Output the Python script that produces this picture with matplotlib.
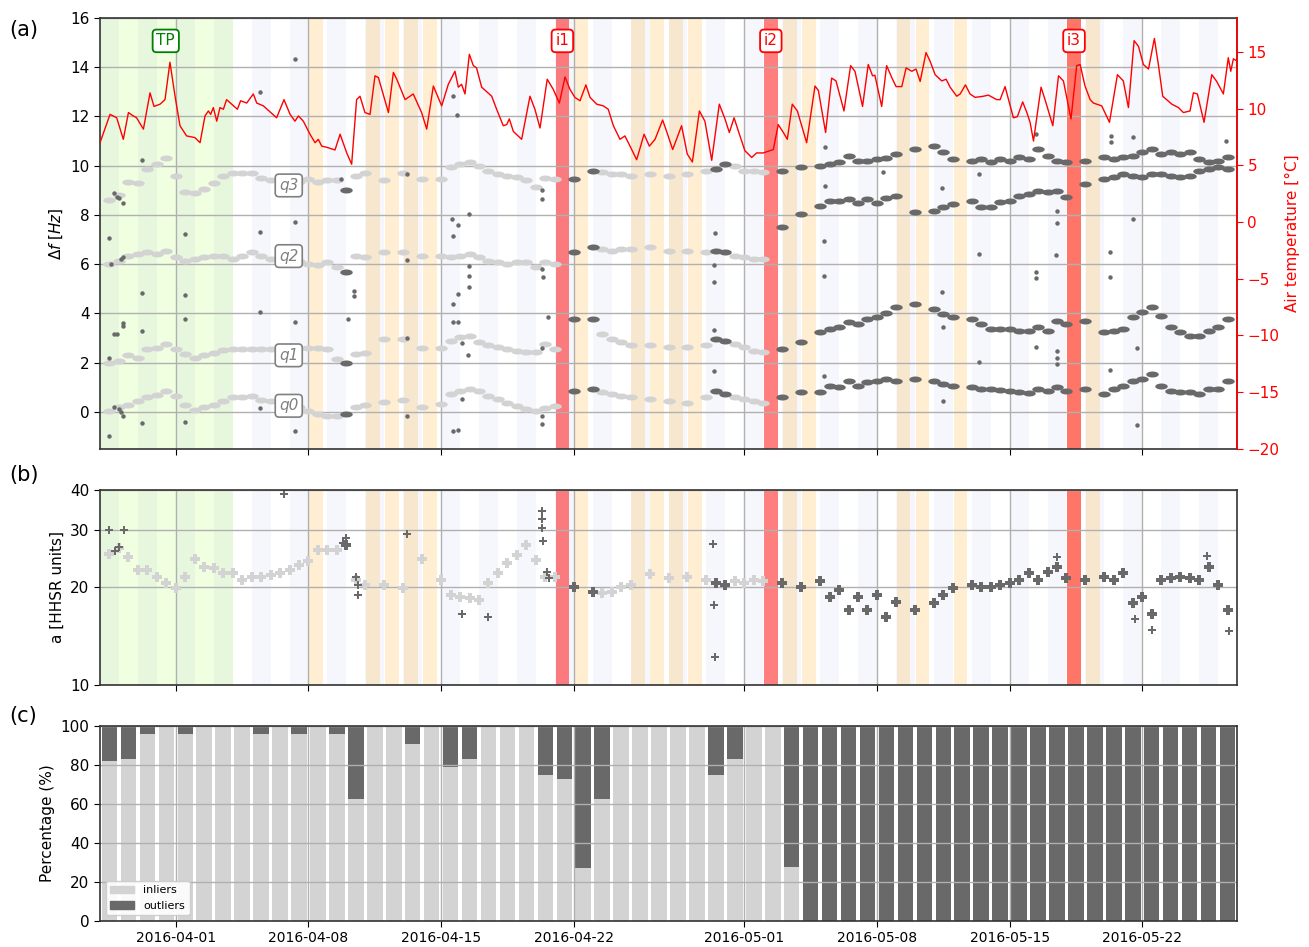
import numpy as np
import matplotlib
matplotlib.use('Agg')
import matplotlib.pyplot as plt
import matplotlib.dates as mdates
from matplotlib.patches import Patch
from matplotlib.path import Path
from matplotlib.ticker import FixedLocator, NullLocator, FixedFormatter

nan = np.nan
start = mdates.datestr2num('2016-03-28')

# frequency tracks, sampled every half day from 2016-03-28
t_half = np.arange(0, 60, 0.5)
q3 = [nan, 8.6, 8.8, 9.35, 9.3, 9.85, 10.05, 10.3, 9.6, 8.95,
      8.9, 9.05, 9.3, 9.6, 9.7, 9.7, 9.7, 9.5, 9.4, nan,
      nan, 9.35, 9.45, 9.35, 9.4, 9.4, 9.0, 9.6, 9.7, nan,
      9.4, nan, 9.7, nan, 9.45, nan, 9.46, 9.94, 10.07, 10.14,
      10.0, 9.8, 9.67, 9.6, 9.53, 9.4, 9.13, 9.5, 9.46, nan,
      9.46, nan, 9.8, 9.73, 9.67, 9.67, 9.6, nan, 9.67, nan,
      9.6, nan, 9.67, nan, 9.8, 9.87, 10.07, 10.0, 9.8, 9.8,
      9.73, nan, 9.8, nan, 9.94, nan, 10.0, 10.07, 10.14, 10.41,
      10.2, 10.2, 10.27, 10.3, 10.48, nan, 10.68, nan, 10.82, 10.55,
      10.27, nan, 10.2, 10.27, 10.14, 10.27, 10.2, 10.34, 10.27, 10.68,
      10.41, 10.2, 10.14, nan, 10.2, nan, 10.34, 10.27, 10.34, 10.41,
      10.55, 10.68, 10.48, 10.55, 10.48, 10.55, 10.27, 10.14, 10.2, 10.34]
q2 = [nan, 6.0, 6.15, 6.35, 6.4, 6.5, 6.4, 6.55, 6.3, 6.15,
      6.2, 6.3, 6.35, 6.35, 6.2, 6.35, 6.5, 6.35, 6.2, nan,
      nan, 6.15, 6.0, 5.95, 6.1, 5.9, 5.7, 6.35, 6.3, nan,
      6.5, nan, 6.5, nan, 6.35, nan, 6.35, 6.28, 6.35, 6.4,
      6.28, 6.15, 6.08, 6.0, 6.08, 6.08, 5.87, 6.08, 6.0, nan,
      6.48, nan, 6.68, 6.6, 6.55, 6.6, 6.6, nan, 6.68, nan,
      6.55, nan, 6.55, nan, 6.48, 6.55, 6.48, 6.35, 6.28, 6.2,
      6.2, nan, 7.5, nan, 8.04, nan, 8.38, 8.58, 8.58, 8.65,
      8.5, 8.65, 8.5, 8.7, 8.78, nan, 8.11, nan, 8.18, 8.31,
      8.45, nan, 8.58, 8.31, 8.31, 8.51, 8.58, 8.78, 8.85, 8.99,
      8.92, 8.99, 8.72, nan, 9.26, nan, 9.46, 9.53, 9.67, 9.6,
      9.53, 9.67, 9.67, 9.6, 9.53, 9.6, 9.8, 9.87, 9.94, 9.87]
q1 = [nan, 2.0, 2.05, 2.3, 2.2, 2.55, 2.6, 2.75, 2.55, 2.35,
      2.2, 2.3, 2.4, 2.5, 2.55, 2.55, 2.55, 2.55, 2.55, nan,
      nan, 2.6, 2.6, 2.6, 2.55, 2.15, 2.0, 2.35, 2.4, nan,
      2.95, nan, 2.95, nan, 2.6, nan, 2.6, 2.9, 3.03, 3.1,
      2.83, 2.7, 2.62, 2.55, 2.49, 2.42, 2.42, 2.76, 2.55, nan,
      3.77, nan, 3.77, 3.16, 2.96, 2.83, 2.7, nan, 2.7, nan,
      2.62, nan, 2.62, nan, 2.7, 2.96, 2.9, 2.76, 2.62, 2.49,
      2.42, nan, 2.55, nan, 2.83, nan, 3.23, 3.37, 3.43, 3.64,
      3.57, 3.77, 3.87, 4.0, 4.25, nan, 4.38, nan, 4.18, 3.97,
      3.84, nan, 3.77, 3.57, 3.37, 3.37, 3.37, 3.3, 3.3, 3.43,
      3.3, 3.7, 3.57, nan, 3.7, nan, 3.23, 3.3, 3.37, 3.84,
      4.04, 4.25, 3.9, 3.43, 3.23, 3.1, 3.1, 3.3, 3.43, 3.77]
q0 = [nan, 0.05, 0.2, 0.3, 0.45, 0.6, 0.7, 0.85, 0.65, 0.3,
      0.08, 0.2, 0.3, 0.45, 0.6, 0.6, 0.65, 0.5, 0.45, nan,
      nan, 0.2, 0.05, -0.1, -0.15, -0.15, -0.1, 0.2, 0.3, nan,
      0.4, nan, 0.5, nan, 0.2, nan, 0.32, 0.72, 0.86, 0.93,
      0.86, 0.66, 0.52, 0.38, 0.25, 0.11, 0.05, 0.18, 0.25, nan,
      0.86, nan, 0.93, 0.8, 0.72, 0.66, 0.59, nan, 0.52, nan,
      0.45, nan, 0.38, nan, 0.59, 0.86, 0.72, 0.59, 0.52, 0.45,
      0.38, nan, 0.59, nan, 0.8, nan, 0.8, 1.06, 1.0, 1.27,
      1.06, 1.2, 1.25, 1.33, 1.27, nan, 1.33, nan, 1.27, 1.13,
      1.06, nan, 1.0, 0.93, 0.93, 0.9, 0.86, 0.8, 0.77, 0.93,
      0.86, 1.0, 0.86, nan, 0.93, nan, 0.72, 0.93, 1.06, 1.27,
      1.33, 1.54, 1.06, 0.86, 0.8, 0.8, 0.72, 0.93, 0.93, 1.27]
amp = [nan, 25.3, 26.4, 24.9, 22.6, 22.6, 21.6, 20.6, 19.9, 21.6,
       24.5, 23.2, 22.9, 22.1, 22.1, 21.1, 21.6, 21.6, 21.9, 22.1,
       22.6, 23.5, 24.1, 26.1, 26.1, 26.1, 27.1, 21.1, 20.4, nan,
       20.4, nan, 19.9, nan, 24.5, nan, 21.1, 18.9, 18.7, 18.5,
       18.3, 20.6, 22.1, 23.8, 25.2, 27.1, 24.3, 21.6, 21.6, nan,
       20.1, nan, 19.4, 19.2, 19.4, 20.1, 20.4, nan, 22.0, nan,
       21.4, nan, 21.6, nan, 21.1, 20.6, 20.4, 20.9, 20.6, 21.1,
       20.9, nan, 20.6, nan, 20.1, nan, 20.9, 18.7, 19.6, 17.0,
       18.7, 17.0, 18.9, 16.2, 18.1, nan, 17.0, nan, 17.9, 18.9,
       19.9, nan, 20.4, 20.1, 20.1, 20.4, 20.6, 21.1, 22.1, 21.1,
       22.4, 23.2, 21.4, nan, 21.1, nan, 21.6, 21.1, 22.1, 17.9,
       18.7, 16.6, 21.1, 21.4, 21.6, 21.4, 21.1, 23.2, 20.4, 17.0]

# stretches of the tracks flagged as outliers (days)
outlier_spans = [(12.6, 13.2), (24.8, 26.3), (32.4, 33.2), (35.8, 60)]

# isolated outliers, panel (a)
out_a_day = [0.49, 0.49, 0.49, 0.75, 0.9, 1.0, 1.2, 0.6, 1.1, 1.2, 0.75, 0.9, 1.2, 0.75, 1.0, 1.1,
             2.2, 2.2, 2.2, 2.2, 1.2, 1.23, 4.49, 4.49, 4.49, 4.49, 8.44, 8.44, 8.44, 8.44,
             10.29, 10.29, 10.29, 10.29, 12.7, 13.4, 13.4, 13.1, 16.22, 16.22, 16.22, 16.22,
             18.64, 18.82, 18.56, 18.91, 18.64, 19.49, 19.49, 19.49, 19.49, 18.91, 18.64, 18.64,
             18.91, 19.08, 19.44, 19.08, 18.64, 18.91, 23.3, 23.3, 23.3, 23.4, 23.3, 23.66, 23.3, 23.35,
             32.45, 32.4, 32.4, 32.4, 32.4, 38.26, 38.26, 38.2, 38.2, 38.2,
             41.34, 44.42, 44.42, 44.5, 44.5, 46.41, 46.41, 46.41, 49.4, 49.4, 49.4, 49.4,
             50.49, 50.49, 50.45, 50.49, 50.49, 50.49, 53.34, 53.34, 53.3, 53.3, 53.3,
             54.5, 54.5, 54.71, 54.71, 59.42]
out_a_val = [-0.97, 7.05, 2.21, 8.9, 8.75, 8.7, 8.5, 6.0, 6.2, 6.3, 3.16, 3.16, 3.6, 0.2, 0.1, 0.0,
             10.24, 4.82, 3.3, -0.46, 3.5, -0.16, 7.23, 4.75, 3.77, -0.4, 12.99, 7.3, 4.04, 0.14,
             14.34, 7.73, 3.66, -0.79, 9.46, 4.92, 4.72, 3.77, 9.67, 6.18, 3.0, -0.16,
             12.85, 12.04, 7.84, 7.6, 7.13, 8.04, 5.94, 5.53, 5.06, 4.79, 4.38, 3.66,
             3.64, 2.82, 2.31, 0.52, -0.77, -0.73, 9.0, 8.65, 5.8, 5.5, 2.6, 3.84, -0.16, -0.5,
             7.27, 5.97, 5.26, 3.32, 1.67, 10.75, 9.16, 6.93, 5.53, 1.47,
             9.76, 9.08, 4.86, 3.46, 0.45, 9.67, 6.42, 2.04, 11.29, 5.67, 5.42, 2.62,
             8.18, 7.66, 6.37, 2.48, 2.21, 1.94, 11.22, 10.95, 6.51, 5.47, 1.7,
             11.18, 7.84, 2.58, -0.54, 11.02]

# isolated outliers, panel (b)
out_b_day = [0.49, 0.8, 1.0, 1.27, 9.71, 12.8, 13.0, 13.5, 13.6, 13.6, 16.22, 19.1, 20.48,
             23.3, 23.35, 23.3, 23.4, 23.6, 23.7, 32.35, 32.4, 32.46, 50.5, 54.6, 55.5, 58.4, 59.6]
out_b_val = [30.1, 26.0, 26.6, 30.0, 39.0, 27.5, 28.5, 21.5, 20.4, 18.9, 29.3, 16.6, 16.2,
             34.5, 32.6, 30.6, 27.9, 22.4, 21.4, 27.3, 17.6, 12.2, 24.9, 16.0, 14.8, 25.0, 14.7]

# air temperature, days after 2016-03-28
temp_day = [0.00, 0.53, 0.88, 1.23, 1.50, 1.76, 1.93, 2.29, 2.64, 2.85, 3.17, 3.43, 3.69, 3.96,
            4.22, 4.57, 5.01, 5.28, 5.54, 5.72, 5.84, 5.98, 6.16, 6.33, 6.51, 6.68, 6.95, 7.25,
            7.42, 7.74, 8.09, 8.27, 8.62, 9.32, 9.71, 10.03, 10.29, 10.47, 10.73, 11.08, 11.35,
            11.52, 11.70, 11.96, 12.40, 12.67, 13.02, 13.28, 13.54, 13.72, 13.98, 14.25, 14.51,
            14.69, 15.22, 15.48, 15.66, 16.10, 16.53, 16.97, 17.24, 17.59, 18.03, 18.38, 18.73,
            18.91, 19.08, 19.26, 19.49, 19.70, 19.87, 20.14, 20.67, 20.93, 21.28, 21.46, 21.60,
            21.81, 22.25, 22.69, 22.95, 23.22, 23.60, 23.92, 24.24, 24.54, 24.80, 25.06, 25.33,
            25.64, 25.86, 26.21, 26.56, 26.82, 27.09, 27.44, 27.70, 27.97, 28.32, 28.71, 28.99,
            29.29, 29.69, 29.90, 30.22, 30.69, 30.99, 31.26, 31.63, 31.92, 32.28, 32.68, 32.98,
            33.21, 33.46, 33.77, 34.03, 34.39, 34.65, 35.00, 35.53, 35.79, 36.06, 36.27, 36.53,
            36.80, 37.29, 37.73, 37.91, 38.29, 38.61, 38.84, 39.26, 39.61, 39.84, 40.24, 40.54,
            40.77, 40.89, 41.25, 41.51, 41.78, 42.01, 42.31, 42.54, 42.84, 43.06, 43.28, 43.59,
            43.80, 44.07, 44.42, 44.65, 44.86, 45.21, 45.39, 45.67, 45.91, 46.18, 46.62, 46.88,
            47.32, 47.50, 47.76, 47.99, 48.20, 48.41, 48.69, 48.91, 49.08, 49.26, 49.66, 49.87,
            50.28, 50.58, 50.84, 51.24, 51.54, 51.72, 51.98, 52.25, 52.42, 52.60, 52.86, 53.27,
            53.69, 54.00, 54.27, 54.57, 54.80, 55.06, 55.33, 55.64, 55.85, 56.08, 56.56, 56.91,
            57.17, 57.52, 57.70, 57.91, 58.26, 58.67, 58.93, 59.28, 59.54, 59.67, 59.81, 60.00]
temp_val = [7.0, 9.5, 9.2, 7.3, 9.66, 9.36, 9.2, 8.2, 11.4, 10.2, 10.4, 10.8, 14.1, 11.1,
            8.5, 7.6, 7.45, 7.0, 9.36, 9.8, 9.5, 10.1, 8.9, 10.1, 9.95, 10.8, 10.4, 9.95,
            10.7, 10.5, 11.3, 10.5, 10.25, 9.2, 10.8, 9.5, 8.9, 9.36, 8.9, 7.75, 7.0,
            7.3, 6.7, 6.6, 6.36, 7.75, 6.1, 5.1, 10.8, 11.1, 9.66, 9.5, 12.9,
            12.75, 9.66, 13.2, 12.6, 10.8, 11.3, 9.66, 8.2, 12.0, 10.25, 12.15, 13.3,
            11.9, 12.15, 11.3, 14.8, 13.8, 13.6, 11.9, 11.1, 9.95, 8.5, 8.6, 9.1,
            8.0, 7.3, 11.1, 9.95, 8.3, 12.6, 11.7, 10.5, 12.8, 11.7, 11.0, 10.7,
            12.1, 11.0, 10.4, 10.25, 9.95, 8.5, 7.3, 7.6, 6.7, 5.5, 7.75, 6.7,
            7.3, 9.0, 8.0, 6.4, 8.5, 6.0, 5.3, 9.8, 8.9, 5.45, 10.4, 9.1,
            7.9, 9.2, 7.6, 6.3, 5.7, 6.1, 6.1, 6.4, 8.6, 7.9, 7.3, 10.4,
            9.8, 7.0, 12.0, 11.6, 7.9, 12.7, 12.45, 9.8, 13.8, 13.3, 10.2, 13.9,
            12.9, 12.95, 10.2, 13.8, 12.75, 11.95, 11.95, 13.6, 13.3, 13.5, 12.4, 14.95,
            14.2, 13.0, 12.45, 12.6, 11.9, 11.1, 11.3, 12.1, 11.3, 11.0, 11.1, 11.2,
            10.8, 10.8, 11.95, 10.5, 9.2, 9.3, 10.6, 9.66, 8.8, 7.15, 11.9, 10.8,
            8.5, 12.9, 12.45, 9.1, 13.8, 13.9, 12.0, 10.8, 10.5, 10.4, 10.25, 8.8,
            13.0, 12.45, 10.1, 16.0, 15.5, 13.9, 13.5, 16.2, 13.9, 11.1, 10.4, 10.1,
            9.66, 9.8, 11.4, 11.3, 8.8, 13.0, 12.4, 11.3, 14.5, 13.3, 14.4, 14.2]

# daily share of inliers (%) for the bar panel
inlier_pct = [82, 83, 96, 100, 96, 100, 100, 100, 96, 100,
              96, 100, 96, 62.5, 100, 100, 91, 100, 79, 83,
              100, 100, 100, 75, 73, 27, 62.5, 100, 100, 100,
              100, 100, 75, 83, 100, 100, 27.5, 0, 0, 0,
              0, 0, 0, 0, 0, 0, 0, 0, 0, 0,
              0, 0, 0, 0, 0, 0, 0, 0, 0, 0]

# background shading (day index after 2016-03-28)
tp_span = (0, 7)
striped_days = list(range(0, 60, 2))
orange_days = [11, 14, 15, 16, 17, 25, 28, 29, 30, 31, 36, 37, 42, 43, 45, 51, 52]
event_days = [24, 35, 51]
event_names = ['i1', 'i2', 'i3']

light = 'lightgrey'
dark = 'dimgrey'

# wide dot so the half-day samples read as a band, like the dense original
th = np.linspace(0, 2 * np.pi, 41)
blob = Path(np.column_stack([np.cos(th), 0.48 * np.sin(th)]))


def shade(ax):
    for d in striped_days:
        ax.axvspan(start + d, start + d + 1, color='lavender', alpha=0.35, lw=0, zorder=0)
    ax.axvspan(start + tp_span[0], start + tp_span[1], color='chartreuse', alpha=0.12, lw=0, zorder=0)
    for d in orange_days:
        ax.axvspan(start + d + 0.04, start + d + 0.77, color='orange', alpha=0.18, lw=0, zorder=0)
    for d in event_days:
        ax.axvspan(start + d + 0.04, start + d + 0.77, color='red', alpha=0.5, lw=0, zorder=0.5)


t = np.array(t_half)
is_out = np.zeros(len(t), dtype=bool)
for a, b in outlier_spans:
    is_out |= (t >= a) & (t <= b)

fig = plt.figure(figsize=(13.09, 9.47), dpi=100)
ax_a = fig.add_axes([0.0764, 0.526, 0.8686, 0.455])
ax_b = fig.add_axes([0.0764, 0.2767, 0.8686, 0.2059])
ax_c = fig.add_axes([0.0764, 0.0275, 0.8686, 0.2059])

ticks = mdates.datestr2num(['2016-04-01', '2016-04-08', '2016-04-15', '2016-04-22',
                            '2016-05-01', '2016-05-08', '2016-05-15', '2016-05-22'])

for ax in (ax_a, ax_b, ax_c):
    ax.set_xlim(start, start + 60)
    ax.xaxis.set_major_locator(FixedLocator(ticks))
    ax.xaxis.set_minor_locator(NullLocator())
    ax.grid(True, color='#b0b0b0', lw=1)
    ax.set_axisbelow('line')
    ax.tick_params(labelsize=11, length=4)
    for s in ax.spines.values():
        s.set_linewidth(1.2)
        s.set_color('#333333')

# panel (a)
shade(ax_a)
x = start + t
for q in (q0, q1, q2, q3):
    q = np.array(q)
    ax_a.plot(x[~is_out], q[~is_out], ls='none', marker=blob, color=light, ms=9, mew=0, zorder=2)
    ax_a.plot(x[is_out], q[is_out], ls='none', marker=blob, color=dark, ms=9, mew=0, zorder=2.1)
ax_a.plot(start + np.array(out_a_day), out_a_val, 'o', color=dark, ms=3.2, mew=0, zorder=2.1)
ax_a.set_ylim(-1.5, 16)
ax_a.set_yticks(range(0, 17, 2))
ax_a.set_ylabel(r'$\Delta f\ [Hz]$', fontsize=11)
ax_a.tick_params(axis='x', labelbottom=False)

for name, yq in zip(['q3', 'q2', 'q1', 'q0'], [9.2, 6.33, 2.3, 0.25]):
    ax_a.text(start + 9.96, yq, name, ha='center', va='center', fontsize=11, style='italic',
              color='grey', zorder=5,
              bbox=dict(boxstyle='round,pad=0.25', fc='white', ec='grey', lw=1.2))

ax_t = ax_a.twinx()
ax_t.plot(start + np.array(temp_day), temp_val, color='red', lw=1.0)
ax_t.set_ylim(-20, 18)
ax_t.set_yticks(range(-20, 16, 5))
ax_t.set_ylabel('Air temperature [°C]', color='red', fontsize=11)
ax_t.tick_params(axis='y', colors='red', labelsize=11, length=4)
ax_t.spines['right'].set_color('red')
ax_t.spines['right'].set_linewidth(1.2)
ax_t.spines['left'].set_visible(False)
ax_t.spines['top'].set_visible(False)
ax_t.spines['bottom'].set_visible(False)

ax_t.text(start + 3.47, 15.07, 'TP', transform=ax_a.transData, ha='center', va='center',
          fontsize=11, color='green', zorder=6,
          bbox=dict(boxstyle='round,pad=0.25', fc='white', ec='green', lw=1.3))
for d, name in zip(event_days, event_names):
    ax_t.text(start + d + 0.4, 15.07, name, transform=ax_a.transData, ha='center', va='center',
              fontsize=11, color='red', zorder=6,
              bbox=dict(boxstyle='round,pad=0.25', fc='white', ec='red', lw=1.3))

# panel (b)
shade(ax_b)
amp_a = np.array(amp)
ax_b.plot(x[~is_out], amp_a[~is_out], 'P', color=light, ms=7, mew=0, zorder=2)
ax_b.plot(x[is_out], amp_a[is_out], 'P', color=dark, ms=7, mew=0, zorder=2.1)
ax_b.plot(start + np.array(out_b_day), out_b_val, 'P', color=dark, ms=6, mew=0, zorder=2.1)
ax_b.set_yscale('log')
ax_b.set_ylim(10, 40)
ax_b.yaxis.set_major_locator(FixedLocator([10, 20, 30, 40]))
ax_b.yaxis.set_major_formatter(FixedFormatter(['10', '20', '30', '40']))
ax_b.yaxis.set_minor_locator(NullLocator())
ax_b.set_ylabel('a [HHSR units]', fontsize=11)
ax_b.tick_params(axis='x', labelbottom=False)

# panel (c)
days = start + np.arange(60) + 0.5
inl = np.array(inlier_pct, dtype=float)
ax_c.bar(days, inl, width=0.82, color=light, lw=0, zorder=1)
ax_c.bar(days, 100 - inl, bottom=inl, width=0.82, color=dark, lw=0, zorder=1)
ax_c.set_ylim(0, 100)
ax_c.set_yticks(range(0, 101, 20))
ax_c.set_ylabel('Percentage (%)', fontsize=11)
ax_c.xaxis.set_major_formatter(mdates.DateFormatter('%Y-%m-%d'))
ax_c.tick_params(axis='x', labelsize=10)
ax_c.legend(handles=[Patch(color=light, label='inliers'), Patch(color=dark, label='outliers')],
            loc='lower left', fontsize=8, framealpha=0.9, handlelength=2.2)

fig.text(0.007, 0.962, '(a)', fontsize=15)
fig.text(0.007, 0.492, '(b)', fontsize=15)
fig.text(0.007, 0.238, '(c)', fontsize=15)

fig.savefig('out.png', dpi=100)
